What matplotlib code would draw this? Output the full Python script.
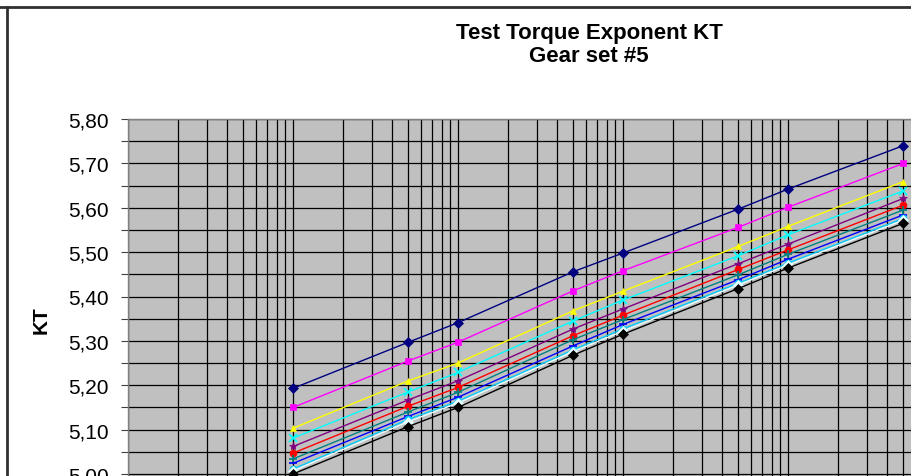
import matplotlib
matplotlib.use("Agg")
import matplotlib.pyplot as plt
from matplotlib.ticker import FixedLocator, FuncFormatter, NullFormatter, LogLocator
from matplotlib.lines import Line2D

plt.rcParams['font.family'] = ['Liberation Sans', 'DejaVu Sans']

# Data (x axis labels are cropped in reference; relative log positions)
x_values = [1e5, 5e5, 1e6, 5e6, 1e7, 5e7, 1e8, 5e8]

series_values = [
    [5.193, 5.297, 5.341, 5.456, 5.498, 5.597, 5.642, 5.740],
    [5.150, 5.255, 5.297, 5.413, 5.458, 5.556, 5.601, 5.700],
    [5.103, 5.210, 5.250, 5.368, 5.412, 5.513, 5.558, 5.659],
    [5.081, 5.185, 5.229, 5.345, 5.392, 5.492, 5.539, 5.638],
    [5.062, 5.167, 5.210, 5.327, 5.372, 5.474, 5.518, 5.621],
    [5.047, 5.153, 5.195, 5.312, 5.358, 5.461, 5.505, 5.606],
    [5.034, 5.140, 5.184, 5.303, 5.348, 5.449, 5.495, 5.595],
    [5.024, 5.130, 5.173, 5.289, 5.337, 5.438, 5.484, 5.584],
    [5.011, 5.123, 5.164, 5.280, 5.327, 5.430, 5.475, 5.576],
    [5.007, 5.118, 5.160, 5.276, 5.322, 5.426, 5.471, 5.572],
    [5.000, 5.107, 5.150, 5.268, 5.315, 5.418, 5.464, 5.565],
]
series_colors = ['#000080', '#FF00FF', '#FFFF00', '#00FFFF', '#800080',
                 '#FF0000', '#008080', '#0000FF', '#00CCFF', '#E8FFFF', '#000000']
series_markers = ['D', 's', '^', 'x', '*', 'o', '+', '_', 'o', 'D', 'D']

y_ticks = [5.00, 5.10, 5.20, 5.30, 5.40, 5.50, 5.60, 5.70, 5.80]

W, H = 911, 477
fig = plt.figure(figsize=(W / 100, H / 100), dpi=100)

# Plot area: left 128px, top 120px; one decade = 165px, 0.1 KT = 44.4px
left_px, top_px = 128, 120
dec_px = 165
n_dec = 5
unit_px = 443.75
ymin, ymax = 4.80, 5.80
ax_w = dec_px * n_dec
ax_h = unit_px * (ymax - ymin)
ax = fig.add_axes([left_px / W, (H - top_px - ax_h) / H, ax_w / W, ax_h / H])
ax.set_facecolor('#C0C0C0')
ax.set_xscale('log')
ax.set_xlim(1e4, 1e9)
ax.set_ylim(ymin, ymax)

ax.xaxis.set_major_locator(LogLocator(base=10, numticks=20))
ax.xaxis.set_minor_locator(LogLocator(base=10, subs=range(2, 10), numticks=100))
ax.xaxis.set_major_formatter(NullFormatter())
ax.xaxis.set_minor_formatter(NullFormatter())

ax.yaxis.set_major_locator(FixedLocator(y_ticks))
ax.yaxis.set_minor_locator(FixedLocator([v + 0.05 for v in y_ticks[:-1]] + [4.95, 4.85]))
ax.yaxis.set_major_formatter(FuncFormatter(lambda v, p: f"{v:.2f}".replace('.', ',')))

ax.grid(True, which='both', axis='both', color='black', linewidth=0.9)
ax.set_axisbelow(True)
ax.tick_params(axis='y', which='both', direction='out', length=5, width=0.8,
               color='#404040', labelsize=15, pad=9)
ax.tick_params(axis='x', which='both', length=0)
for s in ax.spines.values():
    s.set_color('#808080')
    s.set_linewidth(1)

for vals, col, mk in zip(series_values, series_colors, series_markers):
    ax.plot(x_values, vals, color=col, linewidth=1.0, marker=mk,
            markersize=5 if mk not in ('*', 'x', '+', '_') else 6,
            markeredgewidth=1.2 if mk in ('x', '+', '_') else 0.5,
            markeredgecolor=col, markerfacecolor=col, clip_on=True, zorder=3)

fig.text(41 / W, 1 - 320 / H, 'KT', rotation=90, ha='center', va='center',
         fontsize=15, fontweight='bold')

fig.text(589 / W, 1 - 33 / H, 'Test Torque Exponent KT', ha='center', va='center',
         fontsize=16, fontweight='bold')
fig.text(589 / W, 1 - 57 / H, 'Gear set #5', ha='center', va='center',
         fontsize=16, fontweight='bold')

# chart-area border (top and left)
fig.add_artist(Line2D([0, 1], [1 - 8 / H, 1 - 8 / H], transform=fig.transFigure,
                      color='#303030', linewidth=2))
fig.add_artist(Line2D([7 / W, 7 / W], [0, 1 - 8 / H], transform=fig.transFigure,
                      color='#303030', linewidth=2))

fig.savefig('out.png', dpi=100)
